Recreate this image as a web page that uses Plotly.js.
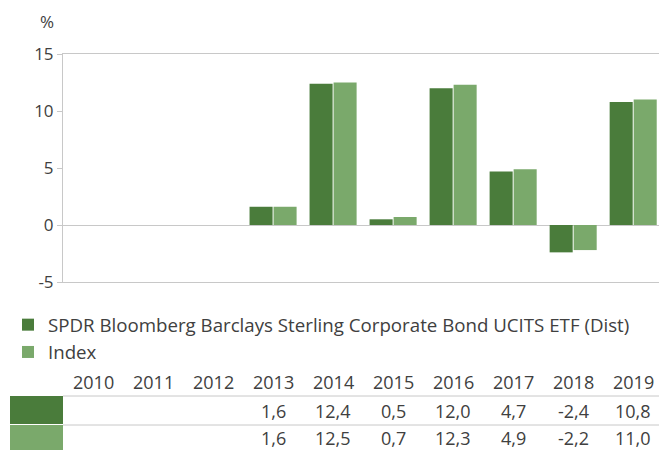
<!DOCTYPE html>
<html>
<head>
<meta charset="utf-8">
<script src="https://cdn.plot.ly/plotly-3.0.1.min.js"></script>
<style>html,body{margin:0;padding:0;background:#fff;}#chart{width:659px;height:450px;}</style>
</head>
<body>
<div id="chart"></div>
<script>
// ---- data ----
var years = ['2010','2011','2012','2013','2014','2015','2016','2017','2018','2019'];
var fundName = 'SPDR Bloomberg Barclays Sterling Corporate Bond UCITS ETF (Dist)';
var indexName = 'Index';
var fundValues = [null, null, null, 1.6, 12.4, 0.5, 12.0, 4.7, -2.4, 10.8];
var indexValues = [null, null, null, 1.6, 12.5, 0.7, 12.3, 4.9, -2.2, 11.0];
var yTicks = [-5, 0, 5, 10, 15];

// ---- layout helpers ----
var W = 659, H = 450;
var L = 63, R = 0, T = 54, B = 168;
var plotW = W - L - R, plotH = H - T - B;
function px2x(px) { return (px - L) / plotW; }
function py2y(py) { return (H - B - py) / plotH; }

var darkC = '#4a7c3b', lightC = '#7aa96b';
var textC = '#404040', lineC = '#c8c8c8';
var FONT = '"Open Sans", "Noto Sans", sans-serif';

var xIdx = years.map(function (y, i) { return i; });

var traces = [
  {type: 'bar', x: xIdx, y: fundValues, name: fundName, marker: {color: darkC},
   legendgroup: 'a', hoverinfo: 'none'},
  {type: 'bar', x: xIdx, y: indexValues, name: indexName, marker: {color: lightC},
   legendgroup: 'b', hoverinfo: 'none'}
];

function fmt(v) { return v.toFixed(1).replace('.', ','); }

var annotations = [
  {text: '%', xref: 'paper', yref: 'paper', x: px2x(47), y: py2y(21), showarrow: false,
   xanchor: 'center', yanchor: 'middle', font: {family: FONT, size: 17, color: textC}}
];
years.forEach(function (yr, i) {
  annotations.push({text: yr, xref: 'x', yref: 'paper', x: i, y: py2y(382), showarrow: false,
    xanchor: 'center', yanchor: 'middle', font: {family: FONT, size: 18, color: textC}});
  if (fundValues[i] !== null) {
    annotations.push({text: fmt(fundValues[i]), xref: 'x', yref: 'paper', x: i, y: py2y(411),
      showarrow: false, xanchor: 'center', yanchor: 'middle', font: {family: FONT, size: 18, color: textC}});
  }
  if (indexValues[i] !== null) {
    annotations.push({text: fmt(indexValues[i]), xref: 'x', yref: 'paper', x: i, y: py2y(438),
      showarrow: false, xanchor: 'center', yanchor: 'middle', font: {family: FONT, size: 18, color: textC}});
  }
});

var shapes = [
  {type: 'line', xref: 'paper', yref: 'paper', x0: 0, x1: 1, y0: py2y(396), y1: py2y(396),
   line: {color: lineC, width: 1}},
  {type: 'line', xref: 'paper', yref: 'paper', x0: 0, x1: 1, y0: py2y(425), y1: py2y(425),
   line: {color: lineC, width: 1}},
  {type: 'rect', xref: 'paper', yref: 'paper', x0: px2x(10), x1: 0, y0: py2y(396), y1: py2y(424),
   fillcolor: darkC, line: {width: 0}},
  {type: 'rect', xref: 'paper', yref: 'paper', x0: px2x(10), x1: 0, y0: py2y(425), y1: py2y(451),
   fillcolor: lightC, line: {width: 0}}
];

var layout = {
  width: W, height: H,
  margin: {l: L, r: R, t: T, b: B, pad: 0},
  paper_bgcolor: '#fff', plot_bgcolor: '#fff',
  font: {family: FONT, size: 17, color: textC},
  barmode: 'group', bargap: 0.2, bargroupgap: 0.04,
  showlegend: true,
  legend: {x: px2x(8), y: py2y(306), xanchor: 'left', yanchor: 'top', orientation: 'v',
    font: {family: FONT, size: 18.7, color: textC}, tracegroupgap: 2, bgcolor: 'rgba(0,0,0,0)',
    traceorder: 'normal'},
  xaxis: {range: [-0.5, 9.43], showticklabels: false, ticks: '', showgrid: false, zeroline: false,
    showline: true, mirror: true, linecolor: lineC, linewidth: 1, fixedrange: true},
  yaxis: {range: [-5, 15], tickvals: yTicks, ticktext: yTicks.map(String), showgrid: false,
    zeroline: true, zerolinecolor: lineC, zerolinewidth: 1,
    showline: true, linecolor: lineC, linewidth: 1, ticks: 'outside', ticklen: 5, tickcolor: lineC,
    tickfont: {family: FONT, size: 17, color: textC}, fixedrange: true},
  annotations: annotations,
  shapes: shapes
};

Plotly.newPlot('chart', traces, layout, {displayModeBar: false, staticPlot: true});
</script>
</body>
</html>
